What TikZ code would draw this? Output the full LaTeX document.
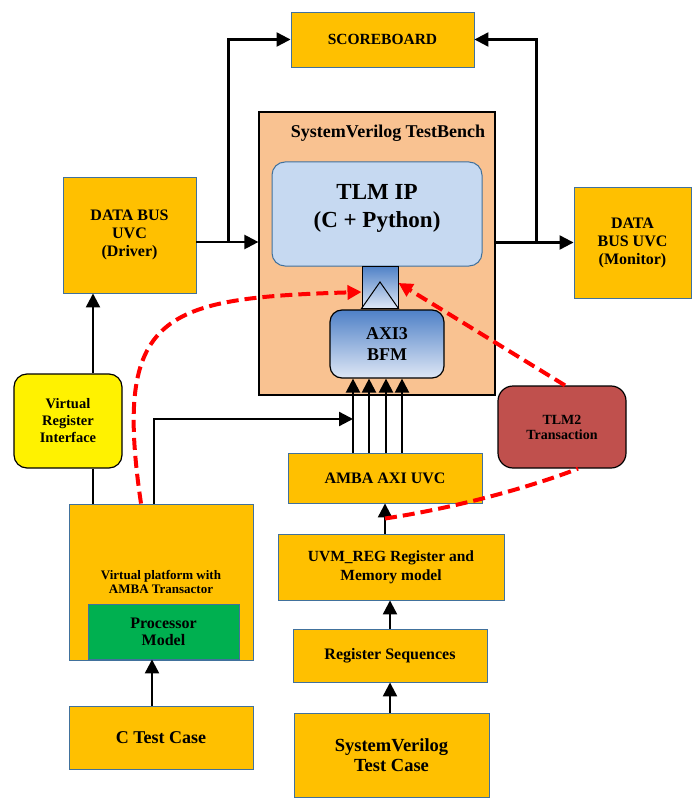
\documentclass[tikz,border=0pt]{standalone}
\usepackage{fontspec}
\setmainfont{Liberation Serif}
\usepackage{xcolor}
\usetikzlibrary{arrows.meta,calc}

\definecolor{uvcorange}{RGB}{255,192,0}
\definecolor{uvcedge}{RGB}{65,113,156}
\definecolor{tbpeach}{RGB}{249,194,145}
\definecolor{tlmblue}{RGB}{198,217,241}
\definecolor{bfmtop}{RGB}{79,129,199}
\definecolor{bfmbottom}{RGB}{222,231,245}
\definecolor{tlmred}{RGB}{192,80,77}
\definecolor{cpugreen}{RGB}{0,176,80}

\begin{document}
\begin{tikzpicture}[x=1pt,y=-1pt,line width=2.3pt,
  uvc/.style={draw=uvcedge,line width=0.9pt,fill=uvcorange,align=center,inner sep=0pt,font=\bfseries\fontsize{16}{18}\selectfont},
  roundbox/.style={draw=black,line width=1.2pt,align=center,inner sep=0pt},
  flow/.style={-{Triangle[length=14pt,width=14pt]}},
  tlmpath/.style={draw=red,line width=4pt,dash pattern=on 12pt off 6pt},
  tlmflow/.style={tlmpath,-{Triangle[length=14pt,width=14pt]}}]

\useasboundingbox (0,0) rectangle (696,799);

% testbench
\node[roundbox,fill=tbpeach,minimum width=236pt,minimum height=283pt] (tb) at (377,253.5) {};
\node[font=\bfseries\fontsize{18}{21}\selectfont] (tbtitle) at (388,133) {SystemVerilog TestBench};
\node[roundbox,draw=uvcedge,line width=1pt,fill=tlmblue,rounded corners=13pt,minimum width=210pt,minimum height=104pt,text depth=17pt,font=\bfseries\fontsize{23}{28}\selectfont] (tlm) at (377,214) {TLM IP\\(C + Python)};
\node[roundbox,line width=1pt,top color=bfmtop,bottom color=bfmbottom,minimum width=36pt,minimum height=42pt] (port) at (380,287) {};
\draw[line width=1pt] (port.south west) -- ([yshift=5pt]port.center) -- (port.south east) -- cycle;
\node[roundbox,rounded corners=12pt,top color=bfmtop,bottom color=bfmbottom,minimum width=114pt,minimum height=68pt,font=\bfseries\fontsize{18}{21}\selectfont] (bfm) at (387,344) {AXI3\\BFM};

% top row
\node[uvc,minimum width=183pt,minimum height=55pt,font=\bfseries\fontsize{15.5}{18}\selectfont] (scoreboard) at (382.5,39.5) {SCOREBOARD};
\node[uvc,minimum width=133pt,minimum height=116pt] (driver) at (129.5,235) {DATA BUS\\UVC\\(Driver)};
\node[uvc,minimum width=117pt,minimum height=111pt] (monitor) at (632.5,242.5) {DATA\\BUS UVC\\(Monitor)};

% left column
\node[roundbox,fill=yellow,rounded corners=13pt,minimum width=108pt,minimum height=94pt,font=\bfseries\fontsize{14.5}{17}\selectfont] (vri) at (68,421) {Virtual\\Register\\Interface};
\node[uvc,minimum width=184pt,minimum height=156pt,font=\bfseries\fontsize{13}{14}\selectfont] (platform) at (161,582) {Virtual platform with\\AMBA Transactor};
\node[uvc,fill=cpugreen,minimum width=151pt,minimum height=55pt,font=\bfseries\fontsize{16}{17}\selectfont] (cpu) at (163.5,631.5) {Processor\\Model};
\node[uvc,minimum width=184pt,minimum height=63pt,font=\bfseries\fontsize{18}{20}\selectfont] (ctest) at (161,737.5) {C Test Case};

% right column
\node[roundbox,fill=tlmred,rounded corners=15pt,minimum width=128pt,minimum height=82pt,font=\bfseries\fontsize{14}{15}\selectfont] (tlm2) at (562,427) {TLM2\\Transaction};
\node[uvc,minimum width=194pt,minimum height=50pt] (amba) at (385,478) {AMBA AXI UVC};
\node[uvc,minimum width=226pt,minimum height=66pt,font=\bfseries\fontsize{15.5}{19}\selectfont] (uvmreg) at (391,567) {UVM\_REG Register and\\Memory model};
\node[uvc,minimum width=194pt,minimum height=53pt] (regseq) at (390,655.5) {Register Sequences};
\node[uvc,minimum width=195pt,minimum height=84pt,font=\bfseries\fontsize{18.5}{20}\selectfont] (svtest) at (391.5,755) {SystemVerilog\\Test Case};

% black connectors
\draw[flow] ([yshift=-7pt]driver.east) -- ([yshift=-7pt]driver.east -| tb.west);
\draw[flow] ([xshift=32pt,yshift=-7pt]driver.east) |- (scoreboard.west);
\draw[flow] (tb.east |- monitor.west) -- (monitor.west);
\draw[flow] ([xshift=-37pt]monitor.west) |- (scoreboard.east);

\draw[flow] ([xshift=25pt]vri.north) -- ([xshift=25pt]vri.north |- driver.south);
\draw ([xshift=25pt]vri.south) -- ([xshift=25pt]vri.south |- platform.north);

\foreach \busx in {353,369,386,402}
  \draw[flow] (\busx,0 |- amba.north) -- (\busx,0 |- bfm.south);
\coordinate (busin) at (353,419);
\draw[flow] ([xshift=-7pt]platform.north) |- (busin);

\draw[flow] (uvmreg.north -| amba.south) -- (amba.south);
\draw[flow] (regseq.north) -- (regseq.north |- uvmreg.south);
\draw[flow] (svtest.north -| regseq.south) -- (regseq.south);
\draw[flow] ([xshift=-9pt]ctest.north) -- ([xshift=-9pt]ctest.north |- cpu.south);

% tlm2 traffic
\coordinate (regtap) at ($(amba.south)!0.5!(amba.south |- uvmreg.north)$);
\draw[tlmflow] ([xshift=-20pt]platform.north) .. controls +(-28,-190) and +(-200,6) .. ([yshift=-5pt]port.west);
\draw[tlmpath] (regtap) .. controls +(80,-12) and +(-35,14) .. ([xshift=16pt]tlm2.south);
\draw[tlmflow] ([xshift=3pt]tlm2.north) -- ([yshift=4pt]port.east);

\end{tikzpicture}
\end{document}
